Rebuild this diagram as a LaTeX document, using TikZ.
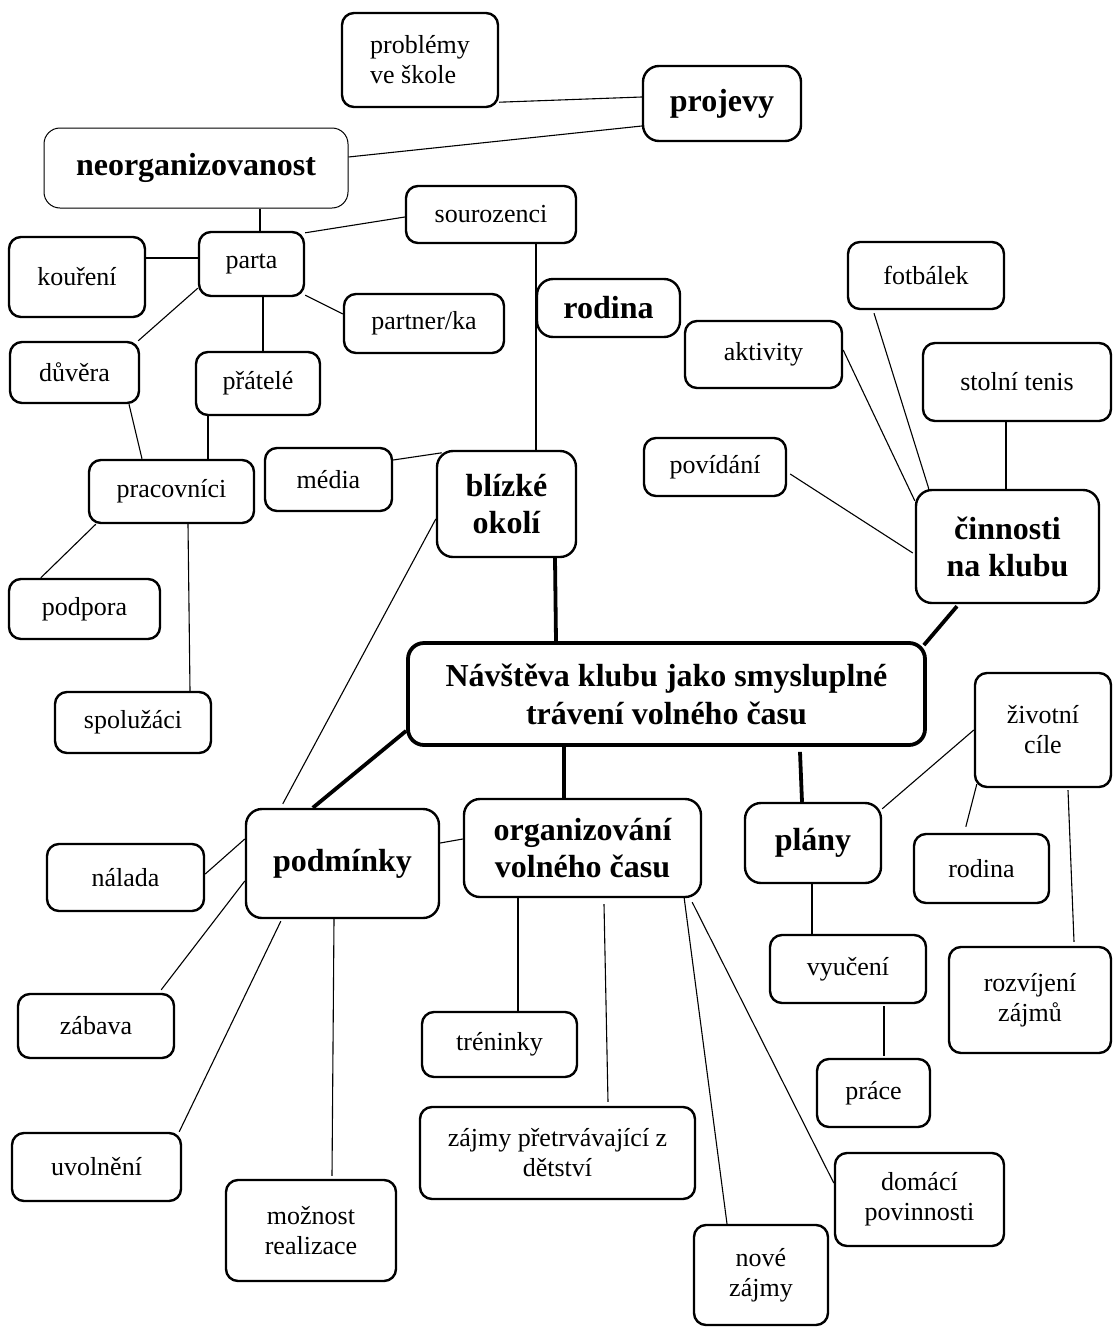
\documentclass[tikz,border=0pt]{standalone}
\usepackage{fontspec}
\setmainfont{Liberation Serif}
\tikzset{
  box/.style={
    draw, line width=2.4pt, rounded corners=12pt, fill=white,
    align=center, inner sep=0pt,
    font=\fontsize{26}{30}\selectfont
  },
  tbox/.style={
    box, rounded corners=16pt,
    font=\bfseries\fontsize{32}{37}\selectfont
  },
  mainbox/.style={
    tbox, line width=3.8pt,
    font=\bfseries\fontsize{32}{38}\selectfont
  },
  lnk/.style={line width=1.1pt},
  thk/.style={line width=3.8pt},
}
\begin{document}
\begin{tikzpicture}[x=1pt, y=-1pt]
  \useasboundingbox (0,0) rectangle (1113,1328);

  % central node
  \node[mainbox, minimum width=517pt, minimum height=102pt] (hlavni) at (666.5,694)
    {N\'av\v{s}t\v{e}va klubu jako smysluplné\\tr\'aven\'i voln\'eho \v{c}asu};

  % top left: neorganizovanost and blizke okoli
  \node[box, align=left, minimum width=156pt, minimum height=94pt] (probl) at (420,60)
    {probl\'emy\\ve \v{s}kole};
  \node[tbox, minimum width=158pt, minimum height=75pt] (projevy) at (722,103.5) {projevy};
  \node[tbox, line width=1pt, minimum width=304pt, minimum height=80pt] (neorg) at (196,168)
    {neorganizovanost};
  \node[box, minimum width=170pt, minimum height=57pt] (souroz) at (491,214.5) {sourozenci};
  \node[box, minimum width=105pt, minimum height=64pt] (parta) at (251.5,264) {parta};
  \node[box, minimum width=136pt, minimum height=80pt] (koureni) at (77,277) {kou\v{r}en\'i};
  \node[box, minimum width=160pt, minimum height=59pt] (partner) at (424,323.5) {partner/ka};
  \node[box, minimum width=129pt, minimum height=61pt] (duvera) at (74.5,372.5) {d\r{u}v\v{e}ra};
  \node[box, minimum width=124pt, minimum height=63pt] (pratele) at (258,383.5) {p\v{r}\'atel\'e};
  \node[box, minimum width=165pt, minimum height=63pt] (pracov) at (171.5,491.5) {pracovn\'ici};
  \node[box, minimum width=127pt, minimum height=63pt] (media) at (328.5,479.5) {m\'edia};
  \node[tbox, minimum width=139pt, minimum height=106pt] (blizke) at (506.5,504)
    {bl\'izk\'e\\okol\'i};
  \node[box, minimum width=151pt, minimum height=60pt] (podpora) at (84.5,609) {podpora};
  \node[box, minimum width=156pt, minimum height=61pt] (spoluz) at (133,722.5) {spolu\v{z}\'aci};
  \node[tbox, minimum width=143pt, minimum height=58pt] (rodina) at (608.5,308) {rodina};

  % top right: cinnosti na klubu
  \node[box, minimum width=156pt, minimum height=67pt] (fotbal) at (926,275.5) {fotb\'alek};
  \node[box, minimum width=157pt, minimum height=67pt] (aktiv) at (763.5,354.5) {aktivity};
  \node[box, minimum width=188pt, minimum height=78pt] (stolni) at (1017,382) {stoln\'i tenis};
  \node[box, minimum width=142pt, minimum height=58pt] (povid) at (715,467) {pov\'id\'an\'i};
  \node[tbox, minimum width=183pt, minimum height=113pt] (cinn) at (1007.5,546.5)
    {\v{c}innosti\\na klubu};

  % bottom left: podminky
  \node[tbox, minimum width=193pt, minimum height=109pt] (podm) at (342.5,863.5) {podm\'inky};
  \node[box, minimum width=157pt, minimum height=67pt] (nalada) at (125.5,877.5) {n\'alada};
  \node[box, minimum width=156pt, minimum height=64pt] (zabava) at (96,1026) {z\'abava};
  \node[box, minimum width=169pt, minimum height=68pt] (uvol) at (96.5,1167) {uvoln\v{e}n\'i};
  \node[box, minimum width=170pt, minimum height=101pt] (moznost) at (311,1230.5)
    {mo\v{z}nost\\realizace};

  % bottom middle: organizovani volneho casu
  \node[tbox, minimum width=237pt, minimum height=98pt] (organ) at (582.5,848)
    {organizov\'an\'i\\voln\'eho \v{c}asu};
  \node[box, minimum width=155pt, minimum height=65pt] (trenink) at (499.5,1044.5) {tr\'eninky};
  \node[box, minimum width=275pt, minimum height=92pt] (zajmypr) at (557.5,1153)
    {z\'ajmy p\v{r}etrv\'avaj\'ic\'i z\\d\v{e}tstv\'i};
  \node[box, minimum width=134pt, minimum height=100pt] (nove) at (761,1275)
    {nov\'e\\z\'ajmy};
  \node[box, minimum width=169pt, minimum height=93pt] (domaci) at (919.5,1199.5)
    {dom\'ac\'i\\povinnosti};

  % bottom right: plany
  \node[tbox, minimum width=136pt, minimum height=80pt] (plany) at (813,843) {pl\'any};
  \node[box, minimum width=156pt, minimum height=68pt] (vyuc) at (848,969) {vyu\v{c}en\'i};
  \node[box, minimum width=113pt, minimum height=68pt] (prace) at (873.5,1093) {pr\'ace};
  \node[box, minimum width=136pt, minimum height=114pt] (zivot) at (1043,730)
    {\v{z}ivotn\'i\\c\'ile};
  \node[box, minimum width=135pt, minimum height=69pt] (rodina2) at (981.5,868.5) {rodina};
  \node[box, minimum width=162pt, minimum height=106pt] (rozvij) at (1030,1000)
    {rozv\'ijen\'i\\z\'ajm\r{u}};

  % thick connectors to the centre
  \draw[thk] ([xshift=48.5pt]blizke.south) -- ([xshift=-110.5pt]hlavni.north);
  \draw[thk] ([yshift=16pt]hlavni.south west) -- ([xshift=68pt]podm.north west);
  \draw[thk] ([xshift=-102.5pt]hlavni.south) -- ([xshift=-18.5pt]organ.north);
  \draw[thk] ([xshift=133.5pt,yshift=-5pt]hlavni.south) -- ([xshift=-11pt]plany.north);
  \draw[thk] ([xshift=-3pt,yshift=-4pt]hlavni.north east) -- ([xshift=-50.5pt,yshift=-2pt]cinn.south);

  % thin connectors
  \draw[lnk] ([yshift=6pt]probl.south east) -- ([yshift=6.5pt]projevy.west);
  \draw[lnk] ([yshift=11pt]neorg.east) -- ([yshift=-22.5pt]projevy.west);
  \draw[lnk] ([xshift=64pt]neorg.south) -- ([xshift=8.5pt]parta.north);
  \draw[lnk] ([yshift=-2pt]parta.north east) -- ([yshift=-2.5pt]souroz.west);
  \draw[lnk] ([yshift=19pt]koureni.east) -- ([yshift=6pt]parta.west);
  \draw[lnk] ([yshift=2pt]parta.south east) -- ([yshift=9.5pt]partner.west);
  \draw[lnk] ([yshift=9pt]parta.south west) -- ([xshift=-2pt]duvera.north east);
  \draw[lnk] ([xshift=11.5pt]parta.south) -- ([xshift=5pt]pratele.north);
  \draw[lnk] ([xshift=-50pt]pratele.south) -- ([xshift=36.5pt]pracov.north);
  \draw[lnk] ([xshift=54.5pt]duvera.south) -- ([xshift=-29.5pt]pracov.north);
  \draw[lnk] ([xshift=45pt]souroz.south) -- ([xshift=29.5pt]blizke.north);
  \draw[lnk] ([yshift=19.5pt]media.east) -- ([xshift=6pt,yshift=-3pt]blizke.north west);
  \draw[lnk] ([xshift=8pt]pracov.south west) -- ([xshift=33pt]podpora.north west);
  \draw[lnk] ([xshift=16.5pt]pracov.south) -- ([xshift=57pt]spoluz.north);
  \draw[lnk] ([yshift=-15pt]blizke.west) -- ([xshift=38pt,yshift=4pt]podm.north west);

  \draw[lnk] ([yshift=4.5pt]aktiv.east) -- ([yshift=-12pt]cinn.north west);
  \draw[lnk] ([xshift=-52pt,yshift=-3pt]fotbal.south) -- ([xshift=14pt]cinn.north west);
  \draw[lnk] ([xshift=-11pt]stolni.south) -- ([xshift=-1.5pt]cinn.north);
  \draw[lnk] ([xshift=3pt,yshift=-7pt]povid.east) -- ([xshift=-2pt,yshift=-6.5pt]cinn.west);

  \draw[lnk] ([yshift=3.5pt]nalada.east) -- ([yshift=24.5pt]podm.west);
  \draw[lnk] ([xshift=-14pt,yshift=3pt]zabava.north east) -- ([yshift=-17.5pt]podm.west);
  \draw[lnk] ([xshift=-3pt]uvol.north east) -- ([xshift=36pt,yshift=-2pt]podm.south west);
  \draw[lnk] ([xshift=-8.5pt]podm.south) -- ([xshift=21pt,yshift=3pt]moznost.north);
  \draw[lnk] ([yshift=20.5pt]podm.east) -- ([yshift=9pt]organ.west);

  \draw[lnk] ([xshift=-64.5pt]organ.south) -- ([xshift=18.5pt]trenink.north);
  \draw[lnk] ([xshift=21.5pt,yshift=-6pt]organ.south) -- ([xshift=50.5pt,yshift=4pt]zajmypr.north);
  \draw[lnk] ([xshift=-18pt]organ.south east) -- ([xshift=-34pt]nove.north);
  \draw[lnk] ([xshift=-10pt,yshift=-4pt]organ.south east) -- ([yshift=16.5pt]domaci.west);

  \draw[lnk] ([yshift=-7pt]plany.north east) -- (zivot.west);
  \draw[lnk] ([xshift=-1pt]plany.south) -- ([xshift=-36pt]vyuc.north);
  \draw[lnk] ([xshift=36pt,yshift=-2pt]vyuc.south) -- ([xshift=10.5pt,yshift=2pt]prace.north);
  \draw[lnk] ([xshift=3pt,yshift=4pt]zivot.south west) -- ([xshift=53pt,yshift=6pt]rodina2.north west);
  \draw[lnk] ([xshift=25pt,yshift=-2pt]zivot.south) -- ([xshift=44pt,yshift=4pt]rozvij.north);
\end{tikzpicture}
\end{document}
